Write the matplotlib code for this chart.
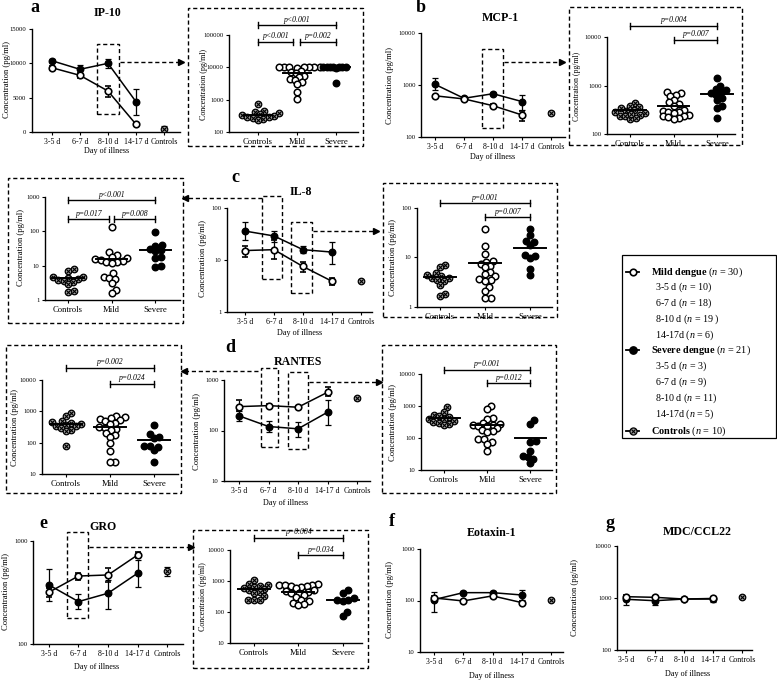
import numpy as np
import matplotlib
matplotlib.use('Agg')
import matplotlib.pyplot as plt
import matplotlib.ticker as mticker
import matplotlib.transforms as mtransforms
from matplotlib.patches import Rectangle
from matplotlib.lines import Line2D

plt.rcParams['font.family'] = ['Liberation Serif', 'DejaVu Serif']
plt.rcParams['mathtext.fontset'] = 'custom'
plt.rcParams['mathtext.rm'] = 'Liberation Serif'
plt.rcParams['mathtext.it'] = 'Liberation Serif:italic'
plt.rcParams['mathtext.bf'] = 'Liberation Serif:bold'

# ---------------------------------------------------------------- data
days = ['3-5 d', '6-7 d', '8-10 d', '14-17 d', 'Controls']
groups = ['Controls', 'Mild', 'Severe']

# a  IP-10 (time course)
ip10_mild = [9360, 8250, 5970, 1120]
ip10_mild_lo = [9050, 7810, 5050, 950]
ip10_mild_hi = [9650, 8630, 6700, 1300]
ip10_sev = [10380, 9130, 10000, 4410]
ip10_sev_lo = [10150, 8440, 9270, 2470]
ip10_sev_hi = [10600, 9750, 10630, 6210]
ip10_ctrl = [390, 40, 870]          # value, low, high
# a  IP-10 (8-10 d scatter)
ip10_s_ctrl = [720, 460, 420, 380, 350, 330, 310, 290, 270, 250, 240, 300]
ip10_s_mild = [10500, 10300, 10200, 10100, 10000, 9900, 10400, 9800, 7500, 7000,
               6500, 5500, 5000, 4500, 4200, 3500, 3000, 1760, 1030]
ip10_s_sev = [10400, 10300, 10200, 10100, 10000, 10000, 9900, 9800, 3250]
ip10_s_med = [330, 6600, 10000]

# b  MCP-1
mcp_mild = [620, 540, 400, 265]
mcp_mild_lo = [590, 515, 375, 205]
mcp_mild_hi = [650, 565, 425, 310]
mcp_sev = [1030, 555, 680, 480]
mcp_sev_lo = [800, 525, 640, 330]
mcp_sev_hi = [1340, 585, 720, 640]
mcp_ctrl = [295, 270, 320]
mcp_s_ctrl = [430, 380, 360, 340, 320, 300, 280, 270, 250, 240, 230, 210, 200, 260]
mcp_s_mild = [750, 700, 650, 600, 500, 450, 420, 380, 320, 300, 290, 280, 270, 250,
              240, 230, 220, 210, 200]
mcp_s_sev = [1450, 1000, 850, 800, 750, 700, 650, 550, 500, 380, 340, 210]
mcp_s_med = [310, 370, 680]

# c  IL-8
il8_mild = [15.2, 15.8, 7.5, 3.9]
il8_mild_lo = [11.3, 10.5, 6.0, 3.3]
il8_mild_hi = [19, 24, 9.3, 4.5]
il8_sev = [36, 29, 15.8, 14.2]
il8_sev_lo = [24, 22, 13.5, 8.5]
il8_sev_hi = [54, 36, 18.3, 22]
il8_ctrl = [4.0, 3.8, 4.2]
il8_l_ctrl = [7.8, 7.2, 4.8, 4.6, 4.4, 4.0, 3.8, 3.6, 3.3, 2.9, 1.8, 1.7]
il8_l_mild = [130, 25, 20, 18, 17, 16, 15, 14, 13, 13, 12, 6, 4.8, 4.5, 4.2, 3.1, 2.0, 1.6]
il8_l_sev = [95, 40, 38, 30, 28, 26, 18, 17, 9.5, 9]
il8_l_med = [4.3, 16, 29]
il8_r_ctrl = [7.2, 6.5, 4.8, 4.5, 4.2, 3.9, 3.8, 3.5, 3.3, 2.8, 1.8, 1.7]
il8_r_mild = [38, 17, 12, 8.5, 8.2, 7.5, 6.8, 6.3, 5.0, 4.6, 4.2, 3.6, 3.5, 3.4, 2.5,
              2.1, 1.55, 1.5]
il8_r_sev = [38, 29, 21.5, 21, 18, 11, 10.5, 9.6, 5.8, 4.4]
il8_r_med = [4.0, 7.6, 15.8]

# d  RANTES
ran_mild = [297, 311, 289, 571]
ran_mild_lo = [248, 290, 268, 483]
ran_mild_hi = [400, 332, 310, 717]
ran_sev = [195, 120, 108, 230]
ran_sev_lo = [155, 95, 76, 130]
ran_sev_hi = [248, 157, 150, 400]
ran_ctrl = [435, 410, 460]
ran_l_ctrl = [880, 700, 500, 450, 420, 400, 380, 350, 330, 300, 260, 240, 80]
ran_l_mild = [700, 650, 600, 550, 520, 480, 430, 400, 320, 300, 280, 250, 200, 180,
              150, 95, 55, 25, 25]
ran_l_sev = [370, 190, 150, 140, 80, 78, 75, 58, 25]
ran_l_med = [390, 325, 120]
ran_r_ctrl = [900, 650, 520, 480, 450, 400, 380, 350, 320, 300, 280, 250]
ran_r_mild = [1000, 780, 420, 400, 300, 280, 260, 250, 240, 230, 200, 180, 160, 150,
              95, 90, 75, 65, 38]
ran_r_sev = [360, 280, 80, 75, 40, 28, 25, 22, 16]
ran_r_med = [415, 260, 100]

# e  GRO
gro_mild = [318, 457, 468, 731]
gro_mild_lo = [288, 418, 402, 679]
gro_mild_hi = [347, 493, 543, 787]
gro_sev = [374, 258, 311, 486]
gro_sev_lo = [262, 217, 217, 360]
gro_sev_hi = [531, 306, 418, 654]
gro_ctrl = [512, 457, 563]
gro_s_ctrl = [1100, 800, 750, 700, 650, 600, 550, 500, 450, 420, 320, 250, 250, 240]
gro_s_mild = [780, 760, 750, 720, 700, 680, 650, 600, 500, 480, 450, 420, 400, 350,
              300, 250, 220, 200, 180, 170]
gro_s_sev = [500, 400, 280, 250, 240, 230, 100, 75]
gro_s_med = [550, 430, 240]

# f  Eotaxin-1
eot_mild = [112, 98, 123, 91]
eot_mild_lo = [104, 93, 116, 86]
eot_mild_hi = [120, 104, 130, 97]
eot_sev = [104, 142, 142, 128]
eot_sev_lo = [60, 132, 133, 104]
eot_sev_hi = [148, 152, 151, 157]
eot_ctrl = [102, 97, 107]

# g  MDC/CCL22
mdc_mild = [1060, 1030, 955, 980]
mdc_mild_lo = [1000, 980, 910, 930]
mdc_mild_hi = [1120, 1080, 1000, 1030]
mdc_sev = [944, 887, 955, 955]
mdc_sev_lo = [720, 740, 900, 820]
mdc_sev_hi = [1050, 960, 1010, 1080]
mdc_ctrl = [1060, 1010, 1110]

legend_rows = [
    ('mild', r'$\bf{Mild\ dengue}$ ($n$ = 30)'),
    (None, r'3-5 d ($n$ = 10)'),
    (None, r'6-7 d ($n$ = 18)'),
    (None, r'8-10 d ($n$ = 19 )'),
    (None, r'14-17d ($n$ = 6)'),
    ('sev', r'$\bf{Severe\ dengue}$ ($n$ = 21)'),
    (None, r'3-5 d ($n$ = 3)'),
    (None, r'6-7 d ($n$ = 9)'),
    (None, r'8-10 d ($n$ = 11)'),
    (None, r'14-17d ($n$ = 5)'),
    ('ctrl', r'$\bf{Controls}$ ($n$ = 10)'),
]

# ---------------------------------------------------------------- layout helpers
W, H = 777, 681
fig = plt.figure(figsize=(W / 100, H / 100), dpi=100)
fig.patch.set_facecolor('white')
DASH = (0, (3, 2))
MS = 4.7
CTRL_FACE = '#a0a0a0'


def fx(x):
    return x / W


def fy(y):
    return 1 - y / H


def add_ax(x0, y0, x1, y1):
    return fig.add_axes([fx(x0), fy(y1), (x1 - x0) / W, (y1 - y0) / H])


def ftext(x, y, s, **kw):
    fig.text(fx(x), fy(y), s, **kw)


def style(ax):
    for s in ('top', 'right'):
        ax.spines[s].set_visible(False)
    for s in ('left', 'bottom'):
        ax.spines[s].set_linewidth(1.0)
    ax.tick_params(axis='both', direction='out', length=2.5, width=0.8, pad=1.5)
    ax.set_facecolor('none')


def set_y(ax, ylim, log, yticks):
    if log:
        ax.set_yscale('log')
    ax.set_ylim(ylim)
    ax.yaxis.set_major_locator(mticker.FixedLocator(yticks))
    ax.yaxis.set_minor_locator(mticker.NullLocator())
    ax.set_yticklabels([str(t) for t in yticks], fontsize=4.8)


def ctrl_marker(ax, x, y, ms=MS, z=5):
    ax.plot(x, y, 'o', ms=ms, mfc=CTRL_FACE, mec='k', mew=0.9, ls='none', zorder=z)
    ax.plot(x, y, 'x', ms=ms * 0.55, mec='k', mew=0.8, ls='none', zorder=z + 0.1)


def dashed_box(x0, y0, x1, y1):
    fig.add_artist(Rectangle((fx(x0), fy(y1)), (x1 - x0) / W, (y1 - y0) / H,
                             transform=fig.transFigure, fill=False, ec='k',
                             lw=1.0, ls=DASH))


def dashed_arrow(x0, x1, y):
    fig.add_artist(Line2D([fx(x0), fx(x1)], [fy(y), fy(y)], transform=fig.transFigure,
                          color='k', lw=1.0, ls=DASH))
    mk = '>' if x1 > x0 else '<'
    fig.add_artist(Line2D([fx(x1)], [fy(y)], transform=fig.transFigure, marker=mk,
                          ms=4.5, color='k', mfc='k', mec='k', ls='none'))


def swarm_x(ax, xc, vals, d):
    vals = np.asarray(vals, float)
    disp = ax.transData.transform(np.column_stack([np.full(len(vals), xc), vals]))
    x0 = disp[0, 0]
    ys = disp[:, 1]
    order = np.argsort(ys)
    placed = []
    off = np.zeros(len(vals))
    for i in order:
        y = ys[i]
        cands = [0.0]
        for px, py in placed:
            dy = abs(py - y)
            if dy < d:
                dx = np.sqrt(d * d - dy * dy)
                cands += [px + dx, px - dx]
        best = 0.0
        for c in sorted(cands, key=abs):
            if all((c - px) ** 2 + (y - py) ** 2 >= d * d - 1e-6 for px, py in placed):
                best = c
                break
        placed.append((best, y))
        off[i] = best
    back = ax.transData.inverted().transform(np.column_stack([x0 + off, ys]))
    return back[:, 0]


def line_panel(rect, xlim, ylim, log, yticks, mild, mlo, mhi, sev, slo, shi, ctrl,
               boxes=()):
    ax = add_ax(*rect)
    style(ax)
    ax.set_xlim(xlim)
    set_y(ax, ylim, log, yticks)
    x4 = np.arange(4)
    mild, mlo, mhi = map(np.asarray, (mild, mlo, mhi))
    sev, slo, shi = map(np.asarray, (sev, slo, shi))
    ax.errorbar(x4, sev, yerr=[sev - slo, shi - sev], color='k', marker='o', ms=MS,
                mfc='k', mec='k', lw=1.1, elinewidth=0.9, capsize=2, capthick=0.9,
                zorder=3)
    ax.errorbar(x4, mild, yerr=[mild - mlo, mhi - mild], color='k', marker='o',
                ms=MS, mfc='white', mec='k', mew=1.2, lw=1.1, elinewidth=0.9,
                capsize=2, capthick=0.9, zorder=4)
    ax.errorbar([4], [ctrl[0]], yerr=[[ctrl[0] - ctrl[1]], [ctrl[2] - ctrl[0]]],
                fmt='none', ecolor='k', elinewidth=0.9, capsize=2, capthick=0.9)
    ctrl_marker(ax, [4], [ctrl[0]])
    ax.set_xticks(range(5))
    ax.set_xticklabels(days, fontsize=5.7)
    for (a, b, lo, hi) in boxes:
        ax.add_patch(Rectangle((a, lo), b - a, hi - lo, fill=False, ec='k', lw=1.0,
                               ls=DASH, clip_on=False, zorder=6))
    return ax


def scatter_panel(rect, xlim, ylim, yticks, ctrl, mild, sev, meds, sigs,
                  dlist=(5.6, 5.6, 5.6)):
    ax = add_ax(*rect)
    style(ax)
    ax.set_xlim(xlim)
    set_y(ax, ylim, True, yticks)
    ax.set_xticks([0, 1, 2])
    ax.set_xticklabels(groups, fontsize=6.2)
    for i, vals in enumerate([ctrl, mild, sev]):
        xs = swarm_x(ax, i, vals, dlist[i])
        if i == 0:
            ctrl_marker(ax, xs, vals, z=3)
        elif i == 1:
            ax.plot(xs, vals, 'o', ms=MS, mfc='white', mec='k', mew=1.1, ls='none',
                    zorder=3)
        else:
            ax.plot(xs, vals, 'o', ms=MS, mfc='k', mec='k', ls='none', zorder=3)
        ax.plot([i - 0.36, i + 0.36], [meds[i], meds[i]], color='k', lw=1.4,
                zorder=4)
    blend = mtransforms.blended_transform_factory(ax.transData, fig.transFigure)
    for (i, j, ypx, txt) in sigs:
        yf = fy(ypx)
        cap = 3.0 / H
        ax.add_line(Line2D([i, j], [yf, yf], transform=blend, color='k', lw=1.0,
                           clip_on=False))
        for xx in (i, j):
            ax.add_line(Line2D([xx, xx], [yf - cap, yf + cap], transform=blend,
                               color='k', lw=1.0, clip_on=False))
        ax.text((i + j) / 2, yf + 1.5 / H, txt, transform=blend, ha='center',
                va='bottom', fontsize=5.6, style='italic')
    return ax


YL = 'Concentration (pg/ml)'
LBL = dict(fontsize=6.2, rotation=90, ha='center', va='center')
DOI = dict(fontsize=5.9, ha='center', va='center')
LET = dict(fontsize=13, fontweight='bold', ha='center', va='center')
TTL = dict(fontsize=8.6, fontweight='bold', ha='center', va='center')

# ---------------------------------------------------------------- panel a
line_panel((32, 29, 180, 132), (-0.71, 4.57), (0, 15000), False,
           [0, 5000, 10000, 15000], ip10_mild, ip10_mild_lo, ip10_mild_hi,
           ip10_sev, ip10_sev_lo, ip10_sev_hi, ip10_ctrl,
           boxes=[(1.6, 2.39, 2620, 12800)])
ftext(35, 8, 'a', **LET)
ftext(108, 13, 'IP-10', **TTL)
ftext(7, 80, YL, **LBL)
ftext(107, 151, 'Day of illness', **DOI)
dashed_arrow(120, 181, 62)

dashed_box(188, 8, 363, 146)
scatter_panel((229, 35, 358, 132), (-0.74, 2.56), (100, 100000),
              [100, 1000, 10000, 100000], ip10_s_ctrl, ip10_s_mild, ip10_s_sev,
              ip10_s_med,
              [(0, 2, 25, 'p<0.001'), (0, 0.9, 42, 'p<0.001'),
               (1.08, 2, 42, 'p=0.002')], dlist=(5.6, 5.2, 3.2))
ftext(204, 84, YL, fontsize=5.8, rotation=90, ha='center', va='center')

# ---------------------------------------------------------------- panel b
line_panel((421, 33, 565, 137), (-0.48, 4.48), (100, 10000), True,
           [100, 1000, 10000], mcp_mild, mcp_mild_lo, mcp_mild_hi,
           mcp_sev, mcp_sev_lo, mcp_sev_hi, mcp_ctrl,
           boxes=[(1.62, 2.34, 148, 4900)])
ftext(421, 8, 'b', **LET)
ftext(500, 18, 'MCP-1', **TTL)
ftext(390, 85, YL, **LBL)
ftext(493, 157, 'Day of illness', **DOI)
dashed_arrow(504, 562, 62)

dashed_box(569, 7, 742, 145)
scatter_panel((607, 37, 735, 134), (-0.53, 2.41), (100, 10000),
              [100, 1000, 10000], mcp_s_ctrl, mcp_s_mild, mcp_s_sev, mcp_s_med,
              [(0, 2, 26, 'p=0.004'), (1, 2, 40, 'p=0.007')])
ftext(577, 86, YL, fontsize=5.6, rotation=90, ha='center', va='center')

# ---------------------------------------------------------------- panel c
dashed_box(8, 178, 183, 323)
scatter_panel((45, 197, 180, 300), (-0.53, 2.57), (1, 1000), [1, 10, 100, 1000],
              il8_l_ctrl, il8_l_mild, il8_l_sev, il8_l_med,
              [(0, 2, 200, 'p<0.001'), (0, 0.95, 219, 'p=0.017'),
               (1.05, 2, 219, 'p=0.008')])
ftext(21, 248, YL, **LBL)

line_panel((227, 208, 372, 312), (-0.62, 4.38), (1, 100), True, [1, 10, 100],
           il8_mild, il8_mild_lo, il8_mild_hi, il8_sev, il8_sev_lo, il8_sev_hi,
           il8_ctrl, boxes=[(0.59, 1.28, 4.4, 171), (1.59, 2.31, 2.34, 53)])
ftext(235, 178, 'c', **LET)
ftext(301, 192, 'IL-8', **TTL)
ftext(203, 258, YL, **LBL)
ftext(300, 333, 'Day of illness', **DOI)
dashed_arrow(262, 185, 198)
dashed_arrow(313, 376, 231)

dashed_box(383, 183, 557, 317)
scatter_panel((417, 208, 552, 307), (-0.51, 2.49), (1, 100), [1, 10, 100],
              il8_r_ctrl, il8_r_mild, il8_r_sev, il8_r_med,
              [(0, 2, 203, 'p=0.001'), (1, 2, 217, 'p=0.007')])
ftext(393, 257, YL, **LBL)

# ---------------------------------------------------------------- legend
fig.add_artist(Rectangle((fx(622), fy(438)), (776 - 622) / W, (438 - 255) / H,
                         transform=fig.transFigure, fill=False, ec='k', lw=0.9))
leg_y = [272, 287, 303, 319, 335, 350, 366, 382, 398, 414, 431]
for (kind, txt), yy in zip(legend_rows, leg_y):
    if kind is None:
        ftext(655, yy, txt, fontsize=7.2, ha='left', va='center')
        continue
    ftext(651, yy, txt, fontsize=7.4, ha='left', va='center')
    fig.add_artist(Line2D([fx(626), fx(639)], [fy(yy), fy(yy)],
                          transform=fig.transFigure, color='k', lw=1.3))
    if kind == 'mild':
        fig.add_artist(Line2D([fx(632.5)], [fy(yy)], transform=fig.transFigure,
                              marker='o', ms=MS, mfc='white', mec='k', mew=1.2))
    elif kind == 'sev':
        fig.add_artist(Line2D([fx(632.5)], [fy(yy)], transform=fig.transFigure,
                              marker='o', ms=MS + 0.6, mfc='k', mec='k'))
    else:
        fig.add_artist(Line2D([fx(632.5)], [fy(yy)], transform=fig.transFigure,
                              marker='o', ms=MS + 0.4, mfc=CTRL_FACE, mec='k',
                              mew=0.9))
        fig.add_artist(Line2D([fx(632.5)], [fy(yy)], transform=fig.transFigure,
                              marker='x', ms=MS * 0.55, mec='k', mew=0.8))

# ---------------------------------------------------------------- panel d
dashed_box(6, 345, 181, 493)
scatter_panel((42, 380, 178, 474), (-0.545, 2.55), (10, 10000),
              [10, 100, 1000, 10000], ran_l_ctrl, ran_l_mild, ran_l_sev, ran_l_med,
              [(0, 2, 368, 'p=0.002'), (1, 2, 384, 'p=0.024')])
ftext(15, 427, YL, **LBL)

line_panel((224, 380, 370, 481), (-0.51, 4.44), (10, 1000), True, [10, 100, 1000],
           ran_mild, ran_mild_lo, ran_mild_hi, ran_sev, ran_sev_lo, ran_sev_hi,
           ran_ctrl, boxes=[(0.735, 1.33, 47.7, 1725), (1.67, 2.35, 43.5, 1438)])
ftext(230, 348, 'd', **LET)
ftext(298, 362, 'RANTES', **TTL)
ftext(197, 431, YL, **LBL)
ftext(286, 503, 'Day of illness', **DOI)
dashed_arrow(258, 184, 371)
dashed_arrow(309, 379, 382)

dashed_box(382, 345, 556, 493)
scatter_panel((421, 374, 552, 470), (-0.535, 2.51), (10, 10000),
              [10, 100, 1000, 10000], ran_r_ctrl, ran_r_mild, ran_r_sev, ran_r_med,
              [(0, 2, 370, 'p=0.001'), (1, 2, 383, 'p=0.012')])
ftext(393, 422, YL, **LBL)

# ---------------------------------------------------------------- panel e
line_panel((33, 541, 183, 644), (-0.54, 4.54), (100, 1000), True, [100, 1000],
           gro_mild, gro_mild_lo, gro_mild_hi, gro_sev, gro_sev_lo, gro_sev_hi,
           gro_ctrl, boxes=[(0.61, 1.32, 179, 1222)])
ftext(43, 523, 'e', **LET)
ftext(103, 527, 'GRO', **TTL)
ftext(6, 592, YL, **LBL)
ftext(97, 667, 'Day of illness', **DOI)
dashed_arrow(89, 191, 547)

dashed_box(193, 530, 368, 668)
scatter_panel((230, 550, 362, 643), (-0.54, 2.43), (10, 10000),
              [10, 100, 1000, 10000], gro_s_ctrl, gro_s_mild, gro_s_sev, gro_s_med,
              [(0, 2, 538, 'p=0.004'), (1, 2, 555, 'p=0.034')])
ftext(203, 597, 'Concentraion (pg/ml)', fontsize=5.8, rotation=90, ha='center',
      va='center')

# ---------------------------------------------------------------- panel f
line_panel((420, 549, 563, 652), (-0.48, 4.41), (10, 1000), True, [10, 100, 1000],
           eot_mild, eot_mild_lo, eot_mild_hi, eot_sev, eot_sev_lo, eot_sev_hi,
           eot_ctrl)
ftext(392, 522, 'f', **LET)
ftext(492, 533, 'Eotaxin-1', **TTL)
ftext(390, 600, YL, **LBL)
ftext(492, 676, 'Day of illness', **DOI)

# ---------------------------------------------------------------- panel g
line_panel((617, 546, 752, 650), (-0.31, 4.34), (100, 10000), True,
           [100, 1000, 10000], mdc_mild, mdc_mild_lo, mdc_mild_hi, mdc_sev,
           mdc_sev_lo, mdc_sev_hi, mdc_ctrl)
ftext(610, 523, 'g', **LET)
ftext(697, 532, 'MDC/CCL22', **TTL)
ftext(575, 598, YL, **LBL)
ftext(688, 674, 'Day of illness', **DOI)

fig.savefig('out.png', dpi=100, facecolor='white')
